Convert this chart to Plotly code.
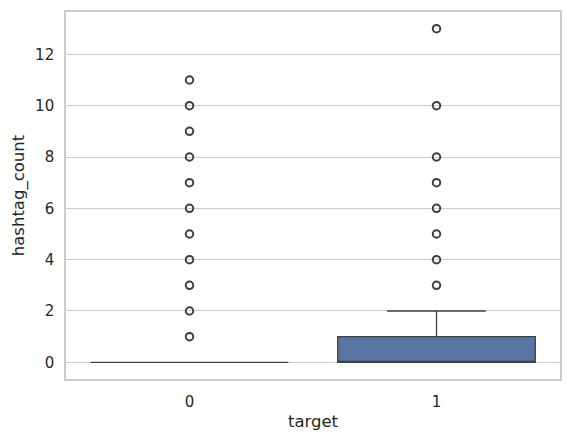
import plotly.graph_objects as go

# Data
categories = [0, 1]
q1 = [0, 0]
median = [0, 0]
q3 = [0, 1]
lower_fence = [0, 0]
upper_fence = [0, 2]
outliers_0 = [1, 2, 3, 4, 5, 6, 7, 8, 9, 10, 11]
outliers_1 = [3, 4, 5, 6, 7, 8, 10, 13]
y_ticks = [0, 2, 4, 6, 8, 10, 12]

box_fill = "#5875a4"
line_col = "#404040"
font_family = "DejaVu Sans"

fig = go.Figure()
fig.add_trace(go.Box(
    x=categories, q1=q1, median=median, q3=q3,
    lowerfence=lower_fence, upperfence=upper_fence,
    width=0.8, whiskerwidth=0.5,
    fillcolor=box_fill, line=dict(color=line_col, width=1.3),
    boxpoints=False, showlegend=False, hoverinfo="skip",
))
for cat, pts in zip(categories, [outliers_0, outliers_1]):
    fig.add_trace(go.Scatter(
        x=[cat] * len(pts), y=pts, mode="markers",
        marker=dict(symbol="circle-open", size=7.5, color=line_col,
                    line=dict(width=2, color=line_col)),
        showlegend=False, hoverinfo="skip",
    ))

fig.update_layout(
    width=572, height=441,
    margin=dict(l=66, r=10, t=10, b=62),
    paper_bgcolor="white", plot_bgcolor="white",
    font=dict(family=font_family, size=15, color="#262626"),
)
fig.update_xaxes(
    range=[-0.5, 1.5], tickvals=categories, ticktext=[str(c) for c in categories],
    showgrid=False, zeroline=False, showline=True, mirror=True,
    linecolor="#cccccc", linewidth=1.6,
    ticks="outside", ticklen=8, tickcolor="rgba(0,0,0,0)",
    title=dict(text="target", font=dict(size=16.5), standoff=6),
)
fig.update_yaxes(
    range=[-0.65, 13.65], tickvals=y_ticks,
    showgrid=True, gridcolor="#cccccc", gridwidth=1,
    zeroline=False, showline=True, mirror=True,
    linecolor="#cccccc", linewidth=1.6,
    ticks="outside", ticklen=7, tickcolor="rgba(0,0,0,0)",
    title=dict(text="hashtag_count", font=dict(size=16.5), standoff=6),
)
fig.write_html("out.html")
